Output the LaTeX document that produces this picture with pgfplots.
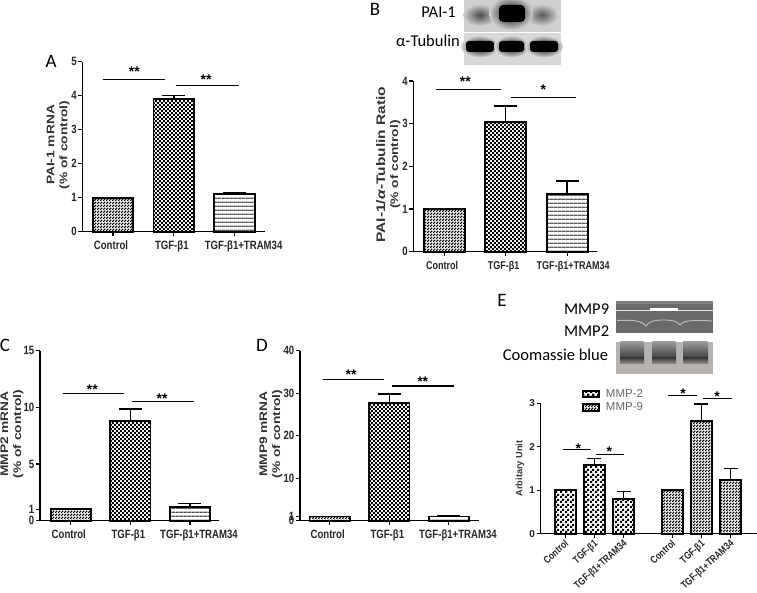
\documentclass[border=0pt]{standalone}
\usepackage{fontspec}
\usepackage{pgfplots}
\pgfplotsset{compat=1.18}
\usetikzlibrary{patterns}
\setmainfont{Liberation Sans}
\newfontfamily\cond[FakeStretch=0.8]{Liberation Sans}
\newfontfamily\wide[FakeStretch=1.25]{Liberation Sans}
\newfontfamily\cali{Carlito}

% bar fills, 1pt = 1 reference pixel
\pgfdeclarepatternformonly{chk}{\pgfqpoint{0pt}{0pt}}{\pgfqpoint{4.4pt}{4.4pt}}{\pgfqpoint{4.4pt}{4.4pt}}{%
  \pgfpathrectangle{\pgfqpoint{0pt}{0pt}}{\pgfqpoint{2.2pt}{2.2pt}}%
  \pgfpathrectangle{\pgfqpoint{2.2pt}{2.2pt}}{\pgfqpoint{2.2pt}{2.2pt}}%
  \pgfusepath{fill}}
\pgfdeclarepatternformonly{chkE}{\pgfqpoint{0pt}{0pt}}{\pgfqpoint{5pt}{5pt}}{\pgfqpoint{5pt}{5pt}}{%
  \pgfpathrectangle{\pgfqpoint{0pt}{0pt}}{\pgfqpoint{2.5pt}{2.5pt}}%
  \pgfpathrectangle{\pgfqpoint{2.5pt}{2.5pt}}{\pgfqpoint{2.5pt}{2.5pt}}%
  \pgfusepath{fill}}
\pgfdeclarepatternformonly{fine}{\pgfqpoint{0pt}{0pt}}{\pgfqpoint{2.6pt}{2.6pt}}{\pgfqpoint{2.6pt}{2.6pt}}{%
  \pgfpathrectangle{\pgfqpoint{0pt}{0pt}}{\pgfqpoint{1.6pt}{1.6pt}}%
  \pgfpathrectangle{\pgfqpoint{1.3pt}{1.3pt}}{\pgfqpoint{1.3pt}{1.3pt}}%
  \pgfusepath{fill}}
\pgfdeclarepatternformonly{hl}{\pgfqpoint{0pt}{0pt}}{\pgfqpoint{4.2pt}{4.2pt}}{\pgfqpoint{4.2pt}{4.2pt}}{%
  \pgfpathrectangle{\pgfqpoint{0pt}{0pt}}{\pgfqpoint{4.2pt}{1.6pt}}%
  \pgfusepath{fill}}

\pgfplotsset{
  panel/.style={
    scale only axis, axis lines=left, axis line style={-, line width=1.2pt},
    clip=false, ymin=0, xtick={0,1,2},
    % the long label sits to the right of its tick in the reference
    xticklabels={Control,TGF-β1,\hspace*{22pt}TGF-β1+TRAM34},
    tick align=outside, major tick length=4pt,
    tick style={black, line width=1.1pt},
    minor tick length=0pt,
    /pgf/number format/assume math mode=true,
    tick label style={font=\cond\bfseries\fontsize{12}{12}\selectfont, text=black!85},
    y tick label style={inner sep=1.5pt},
    x tick label style={yshift=-2pt, xshift=-2pt},
    ylabel style={font=\wide\bfseries\fontsize{11}{13}\selectfont, text=black!80, align=center, anchor=center},
  },
  bars/.style={ybar, bar shift=0pt, bar width=#1, draw=black, line width=1.8pt,
    error bars/y dir=plus, error bars/y explicit,
    error bars/error bar style={line width=1.5pt, black},
    error bars/error mark options={rotate=90, mark size=11.5pt, line width=1.5pt, black}},
  ctrlbar/.style={bars=#1, pattern=fine, pattern color=black},
  chkbar/.style={bars=#1, pattern=chk, pattern color=black},
  hlbar/.style={bars=#1, pattern=hl, pattern color=black!65},
  sigline/.style={black, line width=1.1pt, forget plot},
}
\newcommand\sig[3]{\node[anchor=base, font=\bfseries\fontsize{14}{14}\selectfont, inner sep=0pt] at (#1,{#2+8}) {#3};}
\newcommand\pan[3]{\node[anchor=base, font=\cali\fontsize{19}{19}\selectfont, inner sep=0pt] at (#1,#2) {#3};}
\definecolor{blotA}{HTML}{CFCFCF}
\definecolor{blotB}{HTML}{D8D8D8}
\definecolor{gel}{HTML}{6A6A6A}
\definecolor{coom}{HTML}{B6B2B0}

\begin{document}
\begin{tikzpicture}
\useasboundingbox (0,0) rectangle (757pt,592pt);
\fill[white] (0,0) rectangle (757pt,592pt);

% A
\begin{axis}[panel, at={(82.3pt,{592pt-231.7pt})}, anchor=south west,
  width=182.7pt, height=170pt, xmin=-0.505, xmax=2.5, ymax=5, ytick={0,1,2,3,4,5},
  ylabel={PAI-1 mRNA\\(\% of control)},
  ylabel style={at={(axis description cs:0,0.51)}, yshift=24pt}]
\addplot[ctrlbar=40.6pt] coordinates {(0,1)};
\addplot[chkbar=40.6pt] coordinates {(1,3.9) +- (0,0.1)};
\addplot[hlbar=40.6pt] coordinates {(2,1.12) +- (0,0.04)};
\addplot[sigline] coordinates {(-0.17,4.48) (0.855,4.48)};
\addplot[sigline] coordinates {(1.03,4.31) (2.07,4.31)};
\end{axis}

% B
\begin{axis}[panel, at={(413.3pt,{592pt-251.7pt})}, anchor=south west,
  width=184pt, height=170.7pt, xmin=-0.502, xmax=2.489, ymax=4, ytick={0,1,2,3,4},
  xticklabels={Control,TGF-β1,\hspace*{16pt}TGF-β1+TRAM34},
  x tick label style={font=\cond\bfseries\fontsize{11.3}{12}\selectfont},
  ylabel={{\fontsize{12.4}{13}\selectfont PAI-1/\textit{α}-Tubulin Ratio}\\(\% of control)},
  ylabel style={at={(axis description cs:0,0.51)}, yshift=25pt}]
\addplot[ctrlbar=41pt] coordinates {(0,1)};
\addplot[chkbar=41pt] coordinates {(1,3.03) +- (0,0.39)};
\addplot[hlbar=41pt] coordinates {(2,1.36) +- (0,0.30)};
\addplot[sigline] coordinates {(-0.133,3.81) (0.924,3.81)};
\addplot[sigline] coordinates {(1.091,3.61) (2.143,3.61)};
\end{axis}

% C
\begin{axis}[panel, at={(40pt,{592pt-520.7pt})}, anchor=south west,
  width=179.3pt, height=170pt, xmin=-0.517, xmax=2.492, ymax=15, ytick={0,1,5,10,15},
  ylabel={MMP2 mRNA\\(\% of control)},
  ylabel style={at={(axis description cs:0,0.51)}, yshift=28pt}]
\addplot[ctrlbar=40.3pt] coordinates {(0,1)};
\addplot[chkbar=40.3pt] coordinates {(1,8.82) +- (0,1.03)};
\addplot[hlbar=40.3pt] coordinates {(2,1.2) +- (0,0.3)};
\addplot[sigline] coordinates {(-0.136,11.24) (0.893,11.24)};
\addplot[sigline] coordinates {(1.032,10.5) (2.062,10.5)};
\end{axis}

% D
\begin{axis}[panel, at={(300pt,{592pt-520.7pt})}, anchor=south west,
  width=179pt, height=170pt, xmin=-0.498, xmax=2.505, ymax=40, ytick={0,1,10,20,30,40},
  ylabel={MMP9 mRNA\\(\% of control)},
  ylabel style={at={(axis description cs:0,0.51)}, yshift=29pt}]
\addplot[ctrlbar=40.3pt] coordinates {(0,1)};
\addplot[chkbar=40.3pt] coordinates {(1,27.7) +- (0,2.1)};
\addplot[hlbar=40.3pt] coordinates {(2,1) +- (0,0.05)};
\addplot[sigline] coordinates {(-0.117,33.3) (0.911,33.3)};
\addplot[sigline] coordinates {(1.05,31.7) (2.086,31.7)};
\end{axis}

% E
\begin{axis}[panel, at={(540.7pt,{592pt-533.7pt})}, anchor=south west,
  width=216pt, height=130.4pt, xmin=-0.842, xmax=6.555, ymax=3, ytick={0,1,2,3},
  xtick={0,1,2,3.664,4.664,5.664},
  xticklabels={Control,TGF-β1,TGF-β1+TRAM34,Control,TGF-β1,TGF-β1+TRAM34},
  y tick label style={font=\bfseries\fontsize{10}{10}\selectfont},
  x tick label style={font=\cond\bfseries\fontsize{10.3}{10}\selectfont, rotate=42, anchor=north east, inner sep=1pt, yshift=1pt, xshift=2pt},
  ylabel={Arbitary Unit},
  ylabel style={font=\bfseries\fontsize{9.2}{10}\selectfont, at={(axis description cs:0,0.5)}, yshift=20.7pt},
  legend style={at={(axis description cs:0.19,1.125)}, anchor=north west, draw=none, fill=none,
    font=\fontsize{11.5}{12}\selectfont, text=black!60, row sep=0pt, inner sep=0pt,
    /tikz/every odd column/.append style={column sep=4pt}},
  legend cell align=left,
  legend image code/.code={\draw[#1, line width=2pt] (0pt,-3.3pt) rectangle (16pt,3.3pt);},
  ]
\addplot[bars=20.7pt, pattern=chkE, pattern color=black,
  error bars/error mark options={rotate=90, mark size=7pt, line width=1.4pt, black}]
  coordinates {(0,1) (1,1.58) +- (0,0.15) (2,0.8) +- (0,0.17)};
\addlegendentry{MMP-2}
\addplot[bars=20.7pt, pattern=fine, pattern color=black,
  error bars/error mark options={rotate=90, mark size=7pt, line width=1.4pt, black}]
  coordinates {(3.664,1) (4.664,2.59) +- (0,0.39) (5.664,1.23) +- (0,0.27)};
\addlegendentry{MMP-9}
\addplot[sigline] coordinates {(-0.068,1.93) (0.88,1.93)};
\addplot[sigline] coordinates {(1.04,1.83) (2.01,1.83)};
\addplot[sigline] coordinates {(3.527,3.18) (4.52,3.18)};
\addplot[sigline] coordinates {(4.726,3.12) (5.709,3.12)};
\end{axis}

% pixel coordinates from here on: origin top left, y down
\begin{scope}[x=1pt, y=-1pt, shift={(0pt,592pt)}]
% significance stars
\sig{134.3}{69}{**} \sig{206}{76.7}{**}
\sig{465.3}{79}{**} \sig{543.3}{87}{*}
\sig{92.3}{386.7}{**} \sig{162}{395}{**}
\sig{351}{371.7}{**} \sig{422.7}{379}{**}
\sig{578.3}{445}{*} \sig{609.3}{448.7}{*} \sig{683}{390.7}{*} \sig{717}{393}{*}

% panel letters
\pan{51}{68}{A} \pan{375}{16}{B} \pan{5}{352}{C} \pan{262}{352}{D} \pan{502}{307}{E}

% blot B
\fill[blotA] (464,0) rectangle (561,32);
\fill[blotB] (464,33) rectangle (561,65);
\shade[inner color=black!70, outer color=blotA] (480,15) ellipse (17 and 11);
\shade[inner color=black!65, outer color=blotA] (542,15) ellipse (16 and 11);
\begin{scope}
\clip (464,0) rectangle (561,32);
\shade[inner color=black, middle color=black, outer color=blotA] (511,13) ellipse (22 and 17);
\fill[black, rounded corners=4pt] (499,5) rectangle (525,22);
\end{scope}
\foreach \a/\b in {465/495,498/525,529/559}{
  \shade[inner color=black, middle color=black!90, outer color=blotB] ({(\a+\b)/2},46.5) ellipse ({(\b-\a)/2+4} and 11);
  \fill[black, rounded corners=3pt] (\a+1,41) rectangle (\b-1,52);
}
\node[anchor=base east, font=\cali\fontsize{16.5}{17}\selectfont, inner sep=0pt] at (456,18) {PAI-1};
\node[anchor=base east, font=\cali\fontsize{16.5}{17}\selectfont, inner sep=0pt] at (460,47) {α-Tubulin};

% gel E
\fill[gel] (616,301) rectangle (713,333);
\fill[black!50] (616,301) rectangle (713,304);
\draw[black!10, line width=0.9pt] (616,310) -- (713,310);
\draw[white, line width=2.2pt] (650,309.5) -- (678,309.5);
\draw[black!25, line width=0.9pt] (617,320.5) .. controls (632,320) and (641,320) .. (646,326)
  .. controls (649,321) and (655,320) .. (664,320) .. controls (672,320) and (677,321) .. (680,325)
  .. controls (683,320) and (695,320) .. (712,321);
% coomassie E
\fill[coom] (616,342) rectangle (713,374);
\foreach \a/\b in {620/644,652/676,683/708}{
  \shade[top color=black!40, bottom color=black!75] (\a,342) rectangle (\b,358);
  \shade[top color=black!75, bottom color=coom!85!black] (\a,358) rectangle (\b,364);
}
\node[anchor=base east, font=\cali\fontsize{16.5}{17}\selectfont, inner sep=0pt] at (609.3,315) {MMP9};
\node[anchor=base east, font=\cali\fontsize{16.5}{17}\selectfont, inner sep=0pt] at (609.3,336.7) {MMP2};
\node[anchor=base west, font=\cali\fontsize{16.5}{17}\selectfont, inner sep=0pt] at (502.7,361) {Coomassie blue};
\end{scope}
\end{tikzpicture}
\end{document}
